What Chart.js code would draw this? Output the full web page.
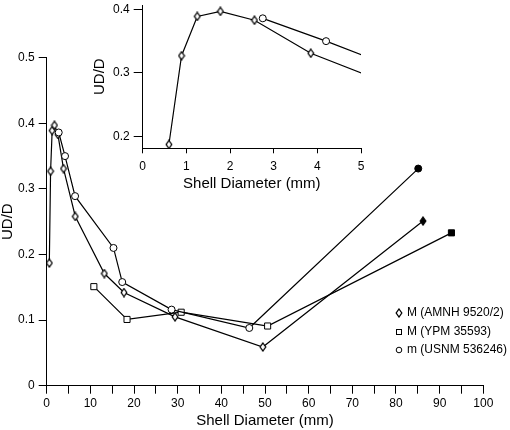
<!DOCTYPE html>
<html>
<head>
<meta charset="utf-8">
<script src="https://cdn.jsdelivr.net/npm/chart.js@4/dist/chart.umd.min.js"></script>
<style>
  html, body { margin: 0; padding: 0; background: #fff; }
  #wrap { position: relative; width: 510px; height: 430px; }
  #main { position: absolute; left: 0; top: 0; }
  #inset { position: absolute; left: 90px; top: 0; }
</style>
</head>
<body>
<div id="wrap">
  <canvas id="main" width="510" height="430"></canvas>
  <canvas id="inset" width="280" height="195"></canvas>
</div>
<script>
// ---- Data ----
const seriesNames = ["M (AMNH 9520/2)", "M (YPM 35593)", "m (USNM 536246)"];
const amnhX = [0.6, 0.89, 1.25, 1.78, 2.56, 3.85, 6.55, 13.2, 17.7, 29.4, 49.5, 86.2];
const amnhY = [0.187, 0.327, 0.389, 0.397, 0.383, 0.331, 0.258, 0.171, 0.142, 0.105, 0.059, 0.251];
const ypmX = [10.8, 18.4, 30.8, 50.6, 92.7];
const ypmY = [0.151, 0.101, 0.112, 0.091, 0.233];
const usnmX = [2.75, 4.2, 6.5, 15.3, 17.3, 28.6, 46.4, 85.1];
const usnmY = [0.386, 0.350, 0.289, 0.210, 0.158, 0.116, 0.088, 0.331];
const mainYTicks = [0, 0.1, 0.2, 0.3, 0.4, 0.5];
const insetYTicks = [0.2, 0.3, 0.4];

const FONT = '"Liberation Sans", Arial, Helvetica, sans-serif';
Chart.defaults.font.family = FONT;
Chart.defaults.color = '#000';

function pts(xs, ys) { return xs.map((x, i) => ({ x: x, y: ys[i] })); }

function makeDiamond(filled) {
  const c = document.createElement('canvas');
  c.width = 8; c.height = 10;
  const g = c.getContext('2d');
  g.beginPath();
  g.moveTo(4, 1);
  g.lineTo(6.8, 5);
  g.lineTo(4, 9);
  g.lineTo(1.2, 5);
  g.closePath();
  g.fillStyle = filled ? '#000' : '#fff';
  g.fill();
  g.lineWidth = 1.3;
  g.strokeStyle = '#000';
  g.stroke();
  return c;
}
const dHollow = makeDiamond(false);
const dFilled = makeDiamond(true);

function lastFilled(n, hollow, filled) {
  return Array.from({ length: n }, (_, i) => i === n - 1 ? filled : hollow);
}

function datasets() {
  return [
    {
      label: seriesNames[0], data: pts(amnhX, amnhY),
      borderColor: '#000', borderWidth: 1.2,
      pointStyle: lastFilled(amnhX.length, dHollow, dFilled),
      pointRadius: 4, pointBorderWidth: 1, pointBorderColor: '#000',
      pointBackgroundColor: '#fff', order: 1
    },
    {
      label: seriesNames[1], data: pts(ypmX, ypmY),
      borderColor: '#000', borderWidth: 1.2,
      pointStyle: 'rect', pointRadius: 4.3, pointBorderWidth: 1, pointBorderColor: '#000',
      pointBackgroundColor: lastFilled(ypmX.length, '#fff', '#000'), order: 2
    },
    {
      label: seriesNames[2], data: pts(usnmX, usnmY),
      borderColor: '#000', borderWidth: 1.2,
      pointStyle: 'circle', pointRadius: 3.5, pointBorderWidth: 1, pointBorderColor: '#000',
      pointBackgroundColor: lastFilled(usnmX.length, '#fff', '#000'), order: 0
    }
  ];
}

const legendPlugin = {
  id: 'customLegend',
  afterDraw(chart) {
    const ctx = chart.ctx;
    ctx.save();
    ctx.font = '12px ' + FONT;
    ctx.fillStyle = '#000';
    ctx.textBaseline = 'middle';
    ctx.textAlign = 'left';
    const ys = [313, 332, 350];
    const mx = 399, tx = 407;
    ctx.lineWidth = 1;
    ctx.strokeStyle = '#000';
    ctx.drawImage(dHollow, mx - 4, ys[0] - 5);
    ctx.fillStyle = '#fff';
    ctx.fillRect(mx - 2.5, ys[1] - 2.5, 5, 5);
    ctx.strokeRect(mx - 2.5, ys[1] - 2.5, 5, 5);
    ctx.beginPath();
    ctx.arc(mx, ys[2], 2.8, 0, Math.PI * 2);
    ctx.fill(); ctx.stroke();
    ctx.fillStyle = '#000';
    seriesNames.forEach((n, i) => ctx.fillText(n, tx, ys[i]));
    ctx.restore();
  }
};

function zeroPad(scale) {
  scale.paddingTop = 0; scale.paddingBottom = 0;
  scale.paddingLeft = 0; scale.paddingRight = 0;
}

// ---- Main chart ----
new Chart(document.getElementById('main'), {
  type: 'line',
  data: { datasets: datasets() },
  plugins: [legendPlugin],
  options: {
    responsive: false, animation: false, devicePixelRatio: 1,
    layout: { padding: { top: 57.7, right: 26.7, left: 0, bottom: 0 } },
    plugins: { legend: { display: false }, tooltip: { enabled: false } },
    scales: {
      x: {
        type: 'linear', min: 0, max: 100,
        ticks: {
          stepSize: 5, autoSkip: false, maxRotation: 0, padding: 3,
          font: { size: 12 },
          callback: v => (Math.round(v) % 10 === 0 ? String(Math.round(v)) : '')
        },
        grid: { drawOnChartArea: false, drawTicks: true, tickLength: 8, color: '#000', lineWidth: 1 },
        border: { display: true, color: '#000', width: 1 },
        title: { display: true, text: 'Shell Diameter (mm)', font: { size: 15, lineHeight: 1.2 }, padding: { top: 0, bottom: 0 } },
        afterFit: s => { s.height = 430 - 385.7; zeroPad(s); }
      },
      y: {
        type: 'linear', min: 0, max: 0.5,
        afterBuildTicks: s => { s.ticks = mainYTicks.map(v => ({ value: v })); },
        ticks: {
          padding: 4, font: { size: 12 },
          callback: v => (v === 0 ? '0' : (+v).toFixed(1))
        },
        grid: { drawOnChartArea: false, drawTicks: true, tickLength: 8, color: '#000', lineWidth: 1 },
        border: { display: true, color: '#000', width: 1 },
        title: { display: true, text: 'UD/D', font: { size: 15, lineHeight: 1 }, padding: { top: 0, bottom: 0 } },
        afterFit: s => { s.width = 46.7; zeroPad(s); }
      }
    }
  }
});

// ---- Inset chart ----
const insetSets = datasets().filter(d => d.label !== seriesNames[1]);
insetSets.forEach(d => { d.clip = { left: 6, top: 6, right: 0, bottom: 6 }; });
new Chart(document.getElementById('inset'), {
  type: 'line',
  data: { datasets: insetSets },
  options: {
    responsive: false, animation: false, devicePixelRatio: 1,
    layout: { padding: { top: 0, right: 9, left: 0, bottom: 0 } },
    plugins: { legend: { display: false }, tooltip: { enabled: false } },
    scales: {
      x: {
        type: 'linear', min: 0, max: 5,
        ticks: { stepSize: 1, autoSkip: false, maxRotation: 0, padding: 6, font: { size: 12 } },
        grid: { drawOnChartArea: false, drawTicks: true, tickLength: 5, color: '#000', lineWidth: 1 },
        border: { display: true, color: '#000', width: 1 },
        title: { display: true, text: 'Shell Diameter (mm)', font: { size: 15, lineHeight: 1.2 }, padding: { top: 0, bottom: 2 } },
        afterFit: s => { s.height = 195 - 148.3; zeroPad(s); }
      },
      y: {
        type: 'linear', min: 0.181, max: 0.407,
        afterBuildTicks: s => { s.ticks = insetYTicks.map(v => ({ value: v })); },
        ticks: { padding: 4, font: { size: 12 }, callback: v => (+v).toFixed(1) },
        grid: { drawOnChartArea: false, drawTicks: true, tickLength: 9, color: '#000', lineWidth: 1 },
        border: { display: true, color: '#000', width: 1 },
        title: { display: true, text: 'UD/D', font: { size: 15, lineHeight: 1 }, padding: { top: 2.5, bottom: 0 } },
        afterFit: s => { s.width = 52.7; zeroPad(s); }
      }
    }
  }
});
</script>
</body>
</html>
